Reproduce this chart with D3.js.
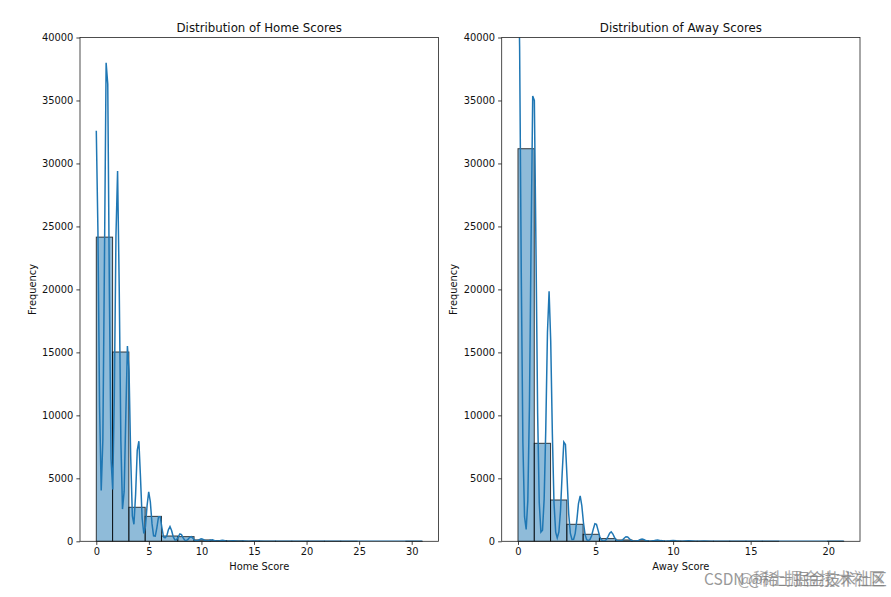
<!DOCTYPE html>
<html>
<head>
<meta charset="utf-8">
<script src="https://cdn.jsdelivr.net/npm/d3@7"></script>
<style>
  body { margin: 0; background: #fff; }
  text { font-family: "DejaVu Sans", sans-serif; fill: #111; }
</style>
</head>
<body>
<div class="canvas"></div>
<script>
// bin heights
const homeBins = [24150, 15030, 2700, 1980, 420, 370, 110, 60, 35, 15, 8, 5, 3, 2, 1, 1, 0, 0, 0, 1];
const awayBins = [31170, 7780, 3280, 1350, 556, 215, 105, 45, 20, 15, 8, 5, 3, 2, 1, 1, 0, 0, 0, 1];

// density line, x and y
const homeCurveX = [0, 0.156, 0.312, 0.467, 0.623, 0.779, 0.935, 1.09, 1.246, 1.402, 1.558, 1.714, 1.87, 2.025, 2.18, 2.337, 2.49, 2.65, 2.8, 2.96, 3.115, 3.27, 3.43, 3.58, 3.74, 3.895, 4.05, 4.2, 4.36, 4.52, 4.67, 4.83, 4.985, 5.14, 5.3, 5.45, 5.61, 5.76, 5.92, 6.08, 6.23, 6.39, 6.54, 6.7, 6.85, 7.01, 7.17, 7.32, 7.48, 7.63, 7.79, 7.95, 8.1, 8.26, 8.41, 8.57, 8.72, 8.88, 9.04, 9.19, 9.35, 9.5, 9.66, 9.81, 9.97, 10.13, 10.28, 10.44, 10.6, 10.75, 10.9, 11.06, 11.2, 11.37, 11.5, 11.7, 11.85, 12, 12.15, 12.3, 12.5, 13, 13.5, 14, 14.5, 15, 16, 17, 18, 20, 22, 25, 28, 29, 31];
const homeCurveY = [32600, 24600, 10700, 4040, 8020, 22600, 38000, 36300, 19800, 6560, 4110, 11550, 24200, 29400, 20200, 7970, 2560, 3960, 9750, 15500, 13500, 6780, 2010, 1350, 3740, 7220, 7950, 5150, 1830, 620, 1140, 2820, 3930, 3140, 1380, 440, 410, 1070, 1950, 1950, 1130, 360, 280, 410, 900, 1170, 840, 350, 105, 120, 360, 590, 530, 270, 90, 60, 150, 315, 365, 245, 90, 40, 55, 130, 198, 165, 80, 25, 20, 60, 105, 115, 75, 25, 15, 30, 60, 80, 60, 30, 10, 40, 5, 25, 3, 15, 8, 5, 3, 2, 2, 1, 0, 1, 0];
const awayCurveX = [0, 0.1055, 0.211, 0.3165, 0.422, 0.5275, 0.633, 0.7385, 0.844, 0.9495, 1.055, 1.16, 1.266, 1.37, 1.477, 1.58, 1.688, 1.79, 1.9, 2.005, 2.11, 2.216, 2.32, 2.43, 2.53, 2.637, 2.74, 2.848, 2.954, 3.06, 3.165, 3.27, 3.376, 3.48, 3.587, 3.69, 3.8, 3.9, 4.01, 4.114, 4.22, 4.325, 4.43, 4.536, 4.64, 4.747, 4.85, 4.958, 5.06, 5.17, 5.27, 5.38, 5.49, 5.6, 5.7, 5.8, 5.91, 6.01, 6.12, 6.22, 6.33, 6.44, 6.54, 6.65, 6.75, 6.86, 6.96, 7.07, 7.17, 7.28, 7.39, 7.5, 7.7, 7.8, 7.9, 8, 8.1, 8.2, 8.3, 8.5, 8.8, 9, 9.2, 9.5, 9.8, 10, 10.2, 10.5, 11, 11.5, 12, 12.5, 13, 14, 15, 16, 18, 21];
const awayCurveY = [48000, 39200, 21360, 7780, 1955, 940, 3210, 10700, 23800, 35350, 35000, 23200, 10200, 3090, 730, 880, 3370, 8830, 16550, 19850, 15900, 8530, 3080, 720, 270, 740, 2400, 5390, 7880, 7680, 5000, 2180, 620, 150, 160, 630, 1740, 3000, 3600, 2840, 1490, 530, 125, 46, 136, 445, 945, 1390, 1340, 845, 385, 100, 30, 41, 146, 360, 645, 750, 575, 310, 105, 30, 15, 40, 118, 260, 360, 340, 218, 89, 25, 12, 36, 90, 155, 185, 155, 90, 36, 8, 60, 110, 55, 5, 40, 70, 35, 4, 35, 2, 20, 2, 10, 6, 4, 2, 2, 1];

const yTicks = [0, 5000, 10000, 15000, 20000, 25000, 30000, 35000, 40000];
const homeTicks = [0, 5, 10, 15, 20, 25, 30];
const awayTicks = [0, 5, 10, 15, 20];

const svg = d3.select(".canvas").append("svg")
    .attr("width", 891)
    .attr("height", 597)
    .style("display", "block");

const plotTop = 37.5, plotBottom = 541.3;

function drawPanel(opts) {
    const x = d3.scaleLinear().domain([-0.05 * opts.max, 1.05 * opts.max]).range([opts.left, opts.right]);
    const y = d3.scaleLinear().domain([0, 40000]).range([plotBottom, plotTop]);
    const binW = opts.max / opts.bins.length;

    const clipId = "clip" + opts.left;
    svg.append("clipPath").attr("id", clipId).append("rect")
        .attr("x", opts.left).attr("y", plotTop)
        .attr("width", opts.right - opts.left).attr("height", plotBottom - plotTop);

    svg.append("g").selectAll("rect")
        .data(opts.bins)
        .enter().append("rect")
        .attr("x", (d, i) => x(i * binW))
        .attr("width", (d, i) => x((i + 1) * binW) - x(i * binW))
        .attr("y", d => y(d))
        .attr("height", d => plotBottom - y(d))
        .attr("fill", "rgba(31,119,180,0.5)")
        .attr("stroke", "#000")
        .attr("stroke-opacity", 0.75)
        .attr("stroke-width", 1);

    const line = d3.line()
        .x((d, i) => x(opts.curveX[i]))
        .y(d => y(d));

    svg.append("path")
        .attr("d", line(opts.curveY))
        .attr("fill", "none")
        .attr("stroke", "#1f77b4")
        .attr("stroke-width", 1.5)
        .attr("clip-path", "url(#" + clipId + ")");

    const xAxis = svg.append("g")
        .attr("transform", "translate(0," + plotBottom + ")")
        .call(d3.axisBottom(x).tickValues(opts.ticks).tickSize(3.6).tickPadding(3).tickFormat(d3.format("d")));
    const yAxis = svg.append("g")
        .attr("transform", "translate(" + opts.left + ",0)")
        .call(d3.axisLeft(y).tickValues(yTicks).tickSize(3.6).tickPadding(3).tickFormat(d3.format("d")));
    [xAxis, yAxis].forEach(a => {
        a.selectAll("text").style("font-size", "9.9px").style("font-family", "'DejaVu Sans'");
        a.selectAll("line").attr("stroke", "#111").attr("stroke-width", 0.8);
        a.select(".domain").remove();
    });

    // frame
    svg.append("rect")
        .attr("x", opts.left).attr("y", plotTop)
        .attr("width", opts.right - opts.left).attr("height", plotBottom - plotTop)
        .attr("fill", "none")
        .attr("stroke", "#222")
        .attr("stroke-width", 0.8);

    const mid = (opts.left + opts.right) / 2;
    svg.append("text")
        .attr("x", mid).attr("y", 32)
        .attr("text-anchor", "middle")
        .style("font-size", "11.8px")
        .text(opts.title);
    svg.append("text")
        .attr("x", mid).attr("y", 569.5)
        .attr("text-anchor", "middle")
        .style("font-size", "9.9px")
        .text(opts.xLabel);
    svg.append("text")
        .attr("transform", "translate(" + (opts.left - 44.5) + "," + ((plotTop + plotBottom) / 2) + ") rotate(-90)")
        .attr("text-anchor", "middle")
        .style("font-size", "9.9px")
        .text("Frequency");
}

drawPanel({ left: 80, right: 438.5, max: 31, bins: homeBins, curveX: homeCurveX, curveY: homeCurveY, ticks: homeTicks, title: "Distribution of Home Scores", xLabel: "Home Score" });
drawPanel({ left: 501.7, right: 860, max: 21, bins: awayBins, curveX: awayCurveX, curveY: awayCurveY, ticks: awayTicks, title: "Distribution of Away Scores", xLabel: "Away Score" });

// doubled site watermark, bottom right
svg.append("text")
    .attr("x", 704).attr("y", 585)
    .style("font-family", "'Noto Sans CJK SC'")
    .style("font-size", "15.5px")
    .style("fill", "#777")
    .style("opacity", 0.75)
    .text("CSDN @稀土掘金技术社区");
svg.append("text")
    .attr("x", 885).attr("y", 585)
    .attr("text-anchor", "end")
    .style("font-family", "'Noto Sans CJK SC'")
    .style("font-size", "16.5px")
    .style("fill", "#777")
    .style("opacity", 0.6)
    .text("@稀土掘金技术社区");
</script>
</body>
</html>
